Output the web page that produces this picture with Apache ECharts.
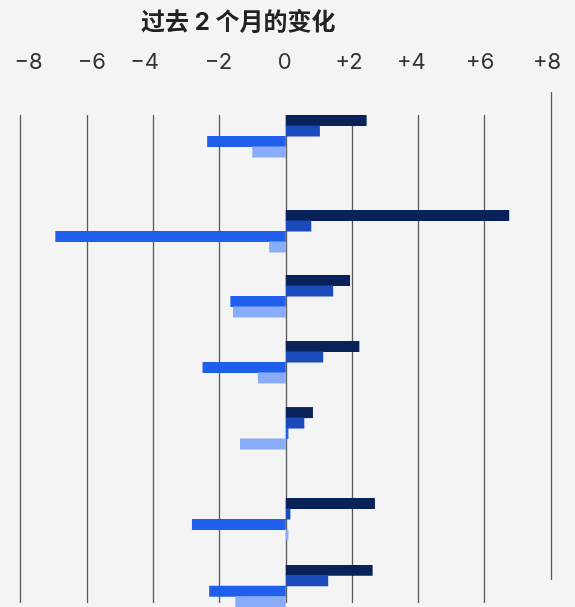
<!DOCTYPE html>
<html>
<head>
<meta charset="utf-8">
<script src="https://cdn.jsdelivr.net/npm/echarts@6/dist/echarts.min.js"></script>
<style>
  html, body { margin: 0; padding: 0; background: #f4f4f4; }
  #chart { width: 575px; height: 607px; }
</style>
</head>
<body>
<div id="chart"></div>
<script>
// Change over the last two months, four measures per row
const titleText = '过去 2 个月的变化';
const rows = ['1', '2', '3', '4', '5', '6', '7'];
const navyValues = [2.44, 6.74, 1.94, 2.22, 0.82, 2.69, 2.62];
const mediumValues = [1.03, 0.77, 1.43, 1.13, 0.56, 0.14, 1.28];
const brightValues = [-2.37, -6.95, -1.67, -2.51, 0.08, -2.83, -2.31];
const lightValues = [-1.01, -0.50, -1.59, -0.84, -1.38, 0.08, -1.52];
const tickLabels = { '-8': '−8', '-6': '−6', '-4': '−4', '-2': '−2', '0': '0', '2': '+2', '4': '+4', '6': '+6', '8': '+8' };

// layout
const rowTops = [115, 210, 275, 341, 407, 498, 565];
const rowHeight = 42.5;
const gridLeft = 20.5, gridRight = 24;
const seriesColors = ['#0a225a', '#1b4bba', '#1f5fec', '#89acf9'];
const seriesValues = [navyValues, mediumValues, brightValues, lightValues];

// small nudges so each tick label sits where it belongs over its line
const labelPad = {
  '-8': [0, 0, 0, 16], '-6': [0, 0, 0, 10], '-4': [0, 17, 0, 0], '-2': [0, 2, 0, 0],
  '0': [0, 2, 0, 0], '2': [0, 6, 0, 0], '4': [0, 14, 0, 0], '6': [0, 9, 0, 0], '8': [0, 8, 0, 0]
};
const rich = {};
Object.keys(labelPad).forEach((k, i) => {
  rich['t' + i] = { padding: labelPad[k], fontSize: 22, fontFamily: 'Inter', color: '#333' };
});
const keyOrder = Object.keys(labelPad);

const clear = 'rgba(0,0,0,0)';
const lineColor = '#5a5a5a';
const gridLineColors = [lineColor, lineColor, lineColor, lineColor, lineColor, lineColor, lineColor, lineColor, clear];
const lastLineOnly = [clear, clear, clear, clear, clear, clear, clear, clear, lineColor];

const grids = [
  { left: gridLeft, right: gridRight, top: 115, bottom: 4 },
  { left: gridLeft, right: gridRight, top: 92, bottom: 27 }
];
const xAxes = [
  {
    gridIndex: 0, type: 'value', position: 'top', min: -8, max: 8, interval: 2,
    axisLine: { show: false }, axisTick: { show: false },
    axisLabel: {
      margin: 42,
      formatter: v => {
        const k = String(v);
        return '{t' + keyOrder.indexOf(k) + '|' + tickLabels[k] + '}';
      },
      rich: rich
    },
    splitLine: { show: true, lineStyle: { color: gridLineColors, width: 1.3 } }
  },
  {
    gridIndex: 1, type: 'value', min: -8, max: 8, interval: 2,
    axisLine: { show: false }, axisTick: { show: false }, axisLabel: { show: false },
    splitLine: { show: true, lineStyle: { color: lastLineOnly, width: 1.3 } }
  }
];
const yAxes = [
  { gridIndex: 0, type: 'category', data: [''], show: false },
  { gridIndex: 1, type: 'category', data: [''], show: false }
];
const series = [];

rows.forEach((name, r) => {
  const gi = grids.length;
  grids.push({ left: gridLeft, right: gridRight, top: rowTops[r], height: rowHeight });
  xAxes.push({ gridIndex: gi, type: 'value', min: -8, max: 8, interval: 2, show: false, splitLine: { show: false } });
  yAxes.push({ gridIndex: gi, type: 'category', data: [name], show: false, inverse: true });
  seriesValues.forEach((vals, s) => {
    series.push({
      type: 'bar',
      xAxisIndex: gi, yAxisIndex: gi,
      data: [vals[r]],
      barWidth: 11, barGap: '-5%',
      itemStyle: { color: seriesColors[s] },
      silent: true
    });
  });
});

const chart = echarts.init(document.getElementById('chart'), null, { renderer: 'canvas' });
chart.setOption({
  backgroundColor: '#f4f4f4',
  animation: false,
  title: {
    text: titleText, left: 136, top: 6,
    textStyle: { fontSize: 24, fontWeight: 'bold', color: '#222', fontFamily: 'Inter, "Noto Sans CJK SC"' }
  },
  grid: grids,
  xAxis: xAxes,
  yAxis: yAxes,
  series: series
});
</script>
</body>
</html>
